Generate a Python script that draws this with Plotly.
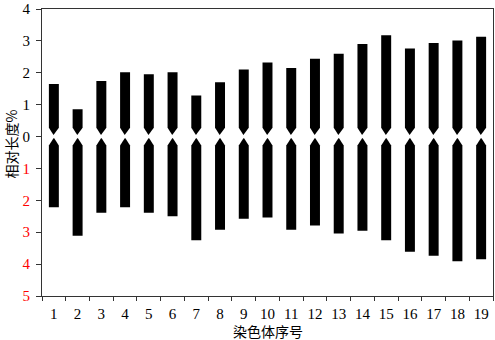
import plotly.graph_objects as go

chromosomes = list(range(1, 20))
short_arm = [1.65, 0.86, 1.74, 2.02, 1.95, 2.02, 1.29, 1.70, 2.10, 2.32,
             2.15, 2.44, 2.60, 2.90, 3.18, 2.76, 2.93, 3.01, 3.13]
long_arm = [2.22, 3.11, 2.39, 2.22, 2.39, 2.50, 3.25, 2.92, 2.58, 2.54,
            2.92, 2.79, 3.04, 2.95, 3.25, 3.61, 3.74, 3.91, 3.85]
y_tickvals = [4, 3, 2, 1, 0, -1, -2, -3, -4, -5]
y_ticktext = ["4", "3", "2", "1", "0",
              '<span style="color:#ff0000">1</span>',
              '<span style="color:#ff0000">2</span>',
              '<span style="color:#ff0000">3</span>',
              '<span style="color:#ff0000">4</span>',
              '<span style="color:#ff0000">5</span>']

half_w = 0.21
neck_w = 0.015
neck_start = 0.28
neck_end = 0.05

FONT = "Liberation Serif, Times New Roman, serif"
CJK = "Noto Sans CJK SC, sans-serif"

fig = go.Figure()
for c, s, l in zip(chromosomes, short_arm, long_arm):
    # upper (short) arm
    xs = [c - half_w, c + half_w, c + half_w, c + neck_w, c - neck_w, c - half_w, c - half_w]
    ys = [s, s, neck_start, neck_end, neck_end, neck_start, s]
    fig.add_trace(go.Scatter(x=xs, y=ys, mode="lines", fill="toself",
                             fillcolor="black", line=dict(color="black", width=0),
                             hoverinfo="skip", showlegend=False))
    # lower (long) arm
    xs = [c - neck_w, c + neck_w, c + half_w, c + half_w, c - half_w, c - half_w, c - neck_w]
    ys = [-neck_end, -neck_end, -neck_start, -l, -l, -neck_start, -neck_end]
    fig.add_trace(go.Scatter(x=xs, y=ys, mode="lines", fill="toself",
                             fillcolor="black", line=dict(color="black", width=0),
                             hoverinfo="skip", showlegend=False))

fig.add_annotation(text="相对长度%", xref="paper", yref="y", x=-0.069, y=-0.22,
                   xanchor="center", yanchor="middle", textangle=-90, showarrow=False,
                   font=dict(family=CJK, size=14, color="black"))
fig.add_annotation(text="染色体序号", xref="paper", yref="paper", x=0.5, y=-0.123,
                   xanchor="center", yanchor="middle", showarrow=False,
                   font=dict(family=CJK, size=14, color="black"))

fig.update_layout(
    width=495, height=340,
    margin=dict(l=42, r=2, t=9, b=44, autoexpand=False),
    paper_bgcolor="white", plot_bgcolor="white",
    font=dict(family=FONT, size=15, color="black"),
    xaxis=dict(
        range=[0.5, 19.5], tickmode="array", tickvals=chromosomes,
        ticktext=[str(c) for c in chromosomes], ticks="",
        showgrid=False, zeroline=False, automargin=False,
        showline=True, linecolor="#333333", linewidth=1, mirror=True,
        minor=dict(tickmode="linear", tick0=0.5, dtick=1, ticks="outside",
                   ticklen=4, tickcolor="#333333", showgrid=False),
        ticklabelstandoff=4,
    ),
    yaxis=dict(
        range=[-5, 4], tickmode="array", tickvals=y_tickvals, ticktext=y_ticktext,
        ticks="outside", ticklen=5, tickcolor="#333333",
        showgrid=False, zeroline=False, automargin=False,
        showline=True, linecolor="#333333", linewidth=1, mirror=True,
        ticklabelstandoff=3,
    ),
)

fig.write_html("out.html", config={"displayModeBar": False},
               post_script="document.body.style.margin='0';document.body.style.overflow='hidden';")
